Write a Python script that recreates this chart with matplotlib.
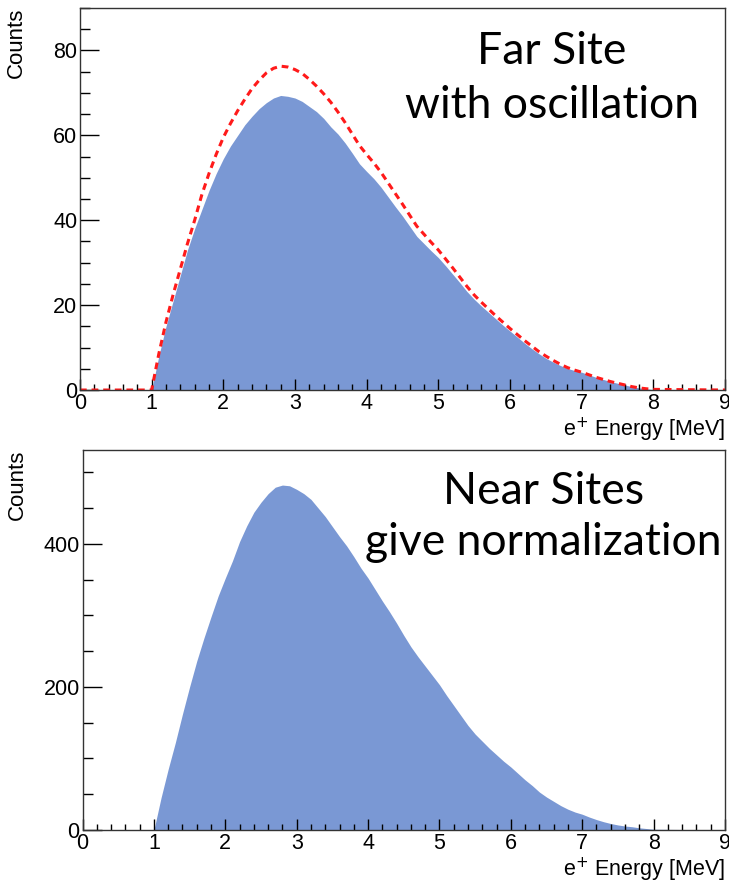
import numpy as np
import matplotlib.pyplot as plt
from matplotlib.ticker import MultipleLocator

# bin centres of the positron energy spectra, 0.1 MeV wide, 1 - 8 MeV
energy = np.round(np.arange(1.0, 8.01, 0.1), 1)

# far site, measured (with oscillation)
far_osc = [0, 8, 15, 21, 27, 33, 38, 42.5, 47, 51,
           54.5, 57.5, 60, 62.5, 64.5, 66.3, 67.7, 68.8, 69.4, 69.2,
           68.8, 68, 66.8, 65.6, 64, 62, 60.3, 58.2, 55.8, 53.3,
           51.5, 49.8, 47.8, 45.5, 43.2, 41, 38.6, 36.2, 34.5, 32.8,
           31.2, 29.3, 27.3, 25.3, 23.2, 21.4, 19.8, 18.3, 16.8, 15.3,
           13.9, 12.5, 11.1, 9.8, 8.6, 7.5, 6.6, 5.8, 5.1, 4.6,
           4.2, 3.6, 3.0, 2.5, 2.0, 1.6, 1.2, 0.8, 0.5, 0.3, 0.1]

# far site, expected without oscillation
far_noosc = [0, 8.5, 16, 22.5, 28.5, 34.5, 40, 46, 51, 55.5,
             59.5, 62.8, 65.8, 68.5, 71, 73, 74.7, 75.8, 76.3, 76.1,
             75.5, 74.6, 73.2, 71.6, 69.8, 67.8, 65.5, 63.0, 60.3, 57.6,
             55.5, 53.5, 51.3, 48.8, 46.3, 43.8, 41.2, 38.6, 36.7, 34.8,
             33.0, 30.9, 28.8, 26.6, 24.4, 22.4, 20.7, 19.1, 17.5, 16.0,
             14.5, 13.1, 11.7, 10.4, 9.1, 8.0, 7.0, 6.1, 5.3, 4.7,
             4.2, 3.6, 3.0, 2.5, 2.0, 1.6, 1.2, 0.8, 0.5, 0.3, 0.15]

# near sites
near = [0, 45, 85, 122, 162, 200, 236, 268, 298, 327,
        352, 376, 403, 425, 444, 458, 470, 479, 482, 481,
        476, 470, 462, 450, 438, 424, 410, 397, 382, 366,
        352, 336, 320, 305, 289, 272, 256, 242, 229, 216,
        203, 188, 174, 160, 146, 134, 124, 114, 105, 96,
        88, 79, 70, 62, 53, 46, 40, 34, 29, 25,
        22, 18, 14.5, 11.5, 9, 7, 5.5, 4.5, 3, 2, 1]

fill_col = '#7a98d4'
plt.rcParams['font.family'] = ['Liberation Sans', 'DejaVu Sans']

fig = plt.figure(figsize=(7.29, 8.82), dpi=100)
ax1 = fig.add_axes([0.1097, 0.5578, 0.8848, 0.4331])
ax2 = fig.add_axes([0.1132, 0.0590, 0.8813, 0.4308])


def pad(x, y):
    # extend a spectrum with empty bins down to 0 and up to 9 MeV
    return np.concatenate([[0.0], x, [9.0]]), np.concatenate([[0.0], y, [0.0]])


def style(ax, ymax, ymaj, ymin, lab_x, lab_y):
    ax.set_xlim(0, 9)
    ax.set_ylim(0, ymax)
    ax.xaxis.set_major_locator(MultipleLocator(1))
    ax.xaxis.set_minor_locator(MultipleLocator(0.2))
    ax.yaxis.set_major_locator(MultipleLocator(ymaj))
    ax.yaxis.set_minor_locator(MultipleLocator(ymin))
    ax.tick_params(axis='x', which='major', direction='in', length=8, width=1,
                   labelsize=15.5, pad=2)
    ax.tick_params(axis='x', which='minor', direction='in', length=4.3, width=1)
    ax.tick_params(axis='y', which='major', direction='in', length=14, width=1,
                   labelsize=15.5, pad=2)
    ax.tick_params(axis='y', which='minor', direction='in', length=7, width=1)
    for s in ax.spines.values():
        s.set_linewidth(1)
        s.set_color('#333333')
    ax.text(1.0, lab_y, r'e$^{+}$ Energy [MeV]', transform=ax.transAxes,
            ha='right', va='top', fontsize=15.5)
    ax.text(lab_x, 1.0, 'Counts', transform=ax.transAxes, rotation=90,
            ha='center', va='top', fontsize=16)


# top: far site
x, y = pad(energy, far_osc)
ax1.fill_between(x, 0, y, color=fill_col, lw=0)
x, y = pad(energy, far_noosc)
ax1.plot(x, y, color='#ff1a1a', ls=(0, (2.2, 1.6)), lw=2.2)
style(ax1, 90, 20, 5, -0.098, -0.066)
ax1.text(0.732, 0.94, 'Far Site\nwith oscillation', transform=ax1.transAxes,
         ha='center', va='top', fontsize=32, family='Lato',
         linespacing=1.4)

# bottom: near sites
x, y = pad(energy, near)
ax2.fill_between(x, 0, y, color=fill_col, lw=0)
style(ax2, 531, 200, 50, -0.102, -0.068)
ax2.text(0.717, 0.945, 'Near Sites\ngive normalization', transform=ax2.transAxes,
         ha='center', va='top', fontsize=32, family='Lato',
         linespacing=1.3)

fig.savefig('out.png', dpi=100)
